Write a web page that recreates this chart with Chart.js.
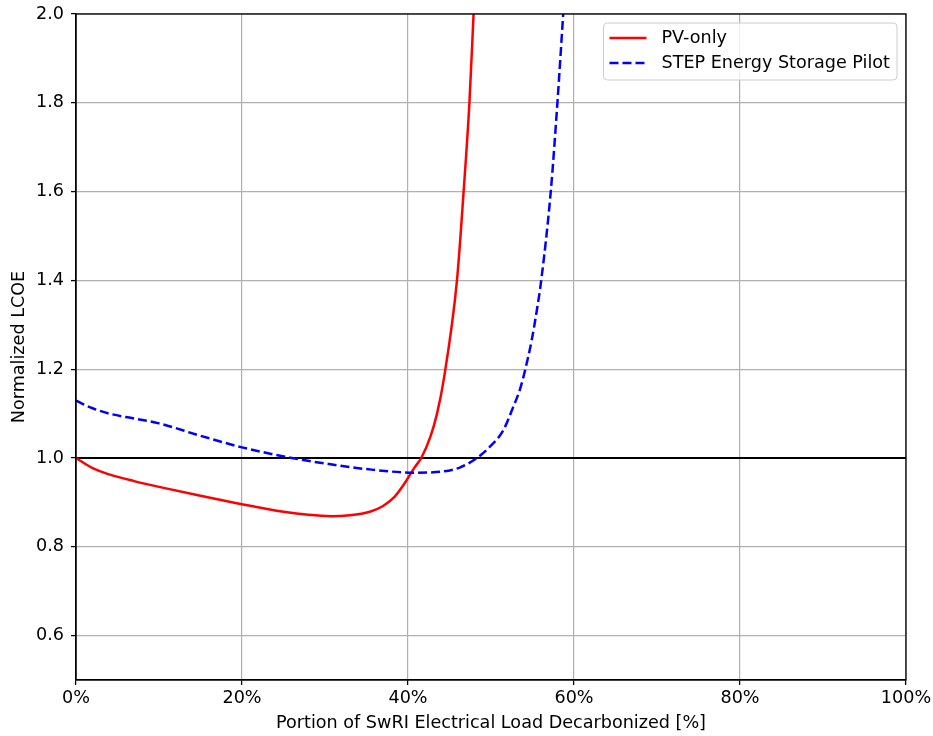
<!DOCTYPE html>
<html>
<head>
<meta charset="utf-8">
<script src="https://cdn.jsdelivr.net/npm/chart.js@4.4.0/dist/chart.umd.min.js"></script>
<style>
  body { margin: 0; background: #fff; }
  #wrap { width: 933px; height: 736px; }
</style>
</head>
<body>
<div id="wrap"><canvas id="lcoeChart"></canvas></div>
<script>
// values
const pvX = [0, 2, 4, 7, 10, 15, 20, 25, 28, 30.7, 33, 35.4, 37, 38.4, 39.6, 40.8, 41.6, 42.7, 43.5, 44.3, 45.9, 46.7, 47.4, 47.9];
const pvY = [1.0, 0.977, 0.963, 0.948, 0.935, 0.915, 0.896, 0.879, 0.872, 0.869, 0.871, 0.879, 0.892, 0.913, 0.943, 0.979, 1.0, 1.048, 1.1, 1.176, 1.4, 1.6, 1.8, 2.0];
const stepX = [0, 2, 4, 7, 10, 15, 20, 26, 30.6, 35, 40.8, 43.9, 46.3, 48.3, 49.9, 51.5, 52.7, 53.5, 54.2, 54.9, 55.5, 56.05, 57.2, 58.0, 58.7];
const stepY = [1.129, 1.112, 1.10, 1.089, 1.078, 1.05, 1.024, 1.0, 0.986, 0.975, 0.967, 0.969, 0.979, 1.0, 1.026, 1.063, 1.116, 1.155, 1.205, 1.265, 1.33, 1.4, 1.6, 1.8, 2.0];
const refX = [0, 100];
const refY = [1.0, 1.0];
const xTicks = [0, 20, 40, 60, 80, 100];
const yTicks = [0.6, 0.8, 1.0, 1.2, 1.4, 1.6, 1.8, 2.0];

const FONT = 'DejaVu Sans';
const FSIZE = 17.6;

function toPoints(xs, ys) {
    return xs.map((x, i) => ({ x: x, y: ys[i] }));
}

// matplotlib style frame + legend box drawn on the canvas
const framePlugin = {
    id: 'frame',
    afterDatasetsDraw(chart) {
        const { ctx, chartArea: a } = chart;
        ctx.save();
        ctx.strokeStyle = '#000';
        ctx.lineWidth = 1.3;
        ctx.strokeRect(a.left, a.top, a.right - a.left, a.bottom - a.top);
        ctx.restore();
    },
    afterDraw(chart) {
        const { ctx, chartArea: a } = chart;
        const sets = chart.data.datasets.filter(d => d.label);
        ctx.save();
        ctx.font = FSIZE + 'px "' + FONT + '"';
        let textW = 0;
        sets.forEach(d => { textW = Math.max(textW, ctx.measureText(d.label).width); });
        const rowH = 25;
        const boxW = 58 + textW + 7;
        const boxH = sets.length * rowH + 7;
        const bx = a.right - 9 - boxW;
        const by = a.top + 9;
        ctx.beginPath();
        ctx.roundRect(bx, by, boxW, boxH, 4);
        ctx.fillStyle = 'rgba(255,255,255,0.8)';
        ctx.fill();
        ctx.strokeStyle = '#cccccc';
        ctx.lineWidth = 1;
        ctx.stroke();
        sets.forEach((d, i) => {
            const cy = by + 15 + i * rowH;
            ctx.beginPath();
            ctx.strokeStyle = d.borderColor;
            ctx.lineWidth = d.borderWidth;
            ctx.setLineDash(d.borderDash || []);
            ctx.moveTo(bx + 6, cy);
            ctx.lineTo(bx + 43, cy);
            ctx.stroke();
            ctx.setLineDash([]);
            ctx.fillStyle = '#000';
            ctx.textBaseline = 'middle';
            ctx.fillText(d.label, bx + 58, cy);
        });
        ctx.restore();
    }
};

new Chart(document.getElementById('lcoeChart').getContext('2d'), {
    type: 'line',
    data: {
        datasets: [
            {
                label: 'PV-only',
                data: toPoints(pvX, pvY),
                borderColor: '#ff0000',
                borderWidth: 2.5,
                pointRadius: 0,
                cubicInterpolationMode: 'monotone',
                order: 2
            },
            {
                label: 'STEP Energy Storage Pilot',
                data: toPoints(stepX, stepY),
                borderColor: '#0000ff',
                borderWidth: 2.5,
                borderDash: [9, 4],
                pointRadius: 0,
                cubicInterpolationMode: 'monotone',
                order: 1
            },
            {
                label: '',
                data: toPoints(refX, refY),
                borderColor: '#000000',
                borderWidth: 2.2,
                pointRadius: 0,
                order: 3
            }
        ]
    },
    options: {
        responsive: true,
        maintainAspectRatio: false,
        animation: false,
        layout: { padding: { top: 14, right: 27, left: 0, bottom: 0 } },
        plugins: {
            legend: { display: false },
            tooltip: { enabled: false }
        },
        scales: {
            x: {
                type: 'linear',
                min: 0,
                max: 100,
                afterBuildTicks: s => { s.ticks = xTicks.map(v => ({ value: v })); },
                afterFit: s => { s.height = 56; s.paddingLeft = 0; s.paddingRight = 0; },
                ticks: {
                    color: '#000',
                    padding: 3,
                    maxRotation: 0,
                    font: { family: FONT, size: FSIZE },
                    callback: v => v + '%'
                },
                grid: { color: '#b0b0b0', lineWidth: 1.2, tickColor: '#000', tickLength: 5, tickWidth: 1.3 },
                border: { display: true, color: '#000', width: 1.3 },
                title: {
                    display: true,
                    text: 'Portion of SwRI Electrical Load Decarbonized [%]',
                    color: '#000',
                    font: { family: FONT, size: FSIZE },
                    padding: { top: 0, bottom: 2 }
                }
            },
            y: {
                type: 'linear',
                min: 0.5,
                max: 2.0,
                afterBuildTicks: s => { s.ticks = yTicks.map(v => ({ value: v })); },
                afterFit: s => { s.width = 76; s.paddingTop = 0; s.paddingBottom = 0; },
                ticks: {
                    color: '#000',
                    padding: 7,
                    font: { family: FONT, size: FSIZE },
                    callback: v => v.toFixed(1)
                },
                grid: { color: '#b0b0b0', lineWidth: 1.2, tickColor: '#000', tickLength: 5, tickWidth: 1.3 },
                border: { display: true, color: '#000', width: 1.3 },
                title: {
                    display: true,
                    text: 'Normalized LCOE',
                    color: '#000',
                    font: { family: FONT, size: FSIZE },
                    padding: { top: 9, bottom: 0 }
                }
            }
        }
    },
    plugins: [framePlugin]
});
</script>
</body>
</html>
